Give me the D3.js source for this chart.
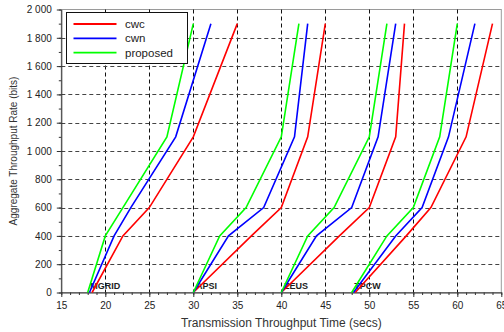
<!DOCTYPE html>
<html>
<head>
<meta charset="utf-8">
<script src="https://cdn.jsdelivr.net/npm/d3@7"></script>
<style>
  body { margin: 0; background: #fff; }
  svg { display: block; font-family: "Liberation Sans", Arial, Helvetica, sans-serif; }
</style>
</head>
<body>
<div id="chart"></div>
<script>
// benchmarks, series and the rate levels each line passes through
const groups = ['MGRID', 'APSI', 'ZEUS', 'TPCW'];
const seriesNames = ['cwc', 'cwn', 'proposed'];
const seriesColors = ['#ff0000', '#0000ff', '#00ff00'];
const rates = [0, 400, 600, 1100, 1900];

// transmission time (secs) at each rate level, per group
const cwcTimes = [
  [18.5, 22, 25, 30, 35],
  [30, 36.6, 40, 43, 45],
  [40, 46.6, 50, 53, 54],
  [48.4, 54.2, 57, 61, 64],
];
const cwnTimes = [
  [18.2, 21, 22.9, 28, 32],
  [30, 34, 38, 41.5, 43],
  [40, 44, 48, 51, 53],
  [48.2, 53, 56, 59, 62],
];
const proposedTimes = [
  [18, 20, 22, 27, 30],
  [30, 33, 36, 40, 42],
  [40, 43, 46, 50, 52],
  [48, 52, 55, 58, 60],
];

const xTicks = [15, 20, 25, 30, 35, 40, 45, 50, 55, 60, 65];
const yTicks = [0, 200, 400, 600, 800, 1000, 1200, 1400, 1600, 1800, 2000];

const width = 504;
const height = 332;
const plotLeft = 61.3, plotRight = 501.3, plotTop = 9.5, plotBottom = 292.5;

const svg = d3
  .select('#chart')
  .append('svg')
  .attr('width', width)
  .attr('height', height);

const x = d3.scaleLinear().domain([15, 65]).range([plotLeft, plotRight]);
const y = d3.scaleLinear().domain([0, 2000]).range([plotBottom, plotTop]);

const fmt = d3.formatLocale({
  decimal: '.',
  thousands: ' ',
  grouping: [3],
  currency: ['', ''],
}).format(',');

// plot frame (top / right edges are light)
svg
  .append('rect')
  .attr('x', plotLeft)
  .attr('y', plotTop)
  .attr('width', plotRight - plotLeft)
  .attr('height', plotBottom - plotTop)
  .attr('fill', 'none')
  .attr('stroke', '#9a9a9a')
  .attr('stroke-width', 1);

// dashed grid
svg
  .append('g')
  .selectAll('line')
  .data(xTicks.filter((d) => d > 15 && d < 65))
  .join('line')
  .attr('x1', (d) => Math.round(x(d)) + 0.5)
  .attr('x2', (d) => Math.round(x(d)) + 0.5)
  .attr('y1', plotTop)
  .attr('y2', plotBottom)
  .attr('stroke', '#111')
  .attr('stroke-dasharray', '4,3');

svg
  .append('g')
  .selectAll('line')
  .data(yTicks.filter((d) => d > 0 && d < 2000))
  .join('line')
  .attr('x1', plotLeft)
  .attr('x2', plotRight)
  .attr('y1', (d) => Math.round(y(d)) + 0.5)
  .attr('y2', (d) => Math.round(y(d)) + 0.5)
  .attr('stroke', '#444')
  .attr('stroke-dasharray', '4,3');

// minor ticks
svg
  .append('g')
  .attr('transform', `translate(0,${plotBottom})`)
  .call(d3.axisBottom(x).ticks(50).tickSize(2.5).tickFormat(''))
  .call((g) => g.select('.domain').remove())
  .selectAll('line')
  .attr('stroke', '#333');

svg
  .append('g')
  .attr('transform', `translate(${plotLeft},0)`)
  .call(d3.axisLeft(y).ticks(20).tickSize(2.5).tickFormat(''))
  .call((g) => g.select('.domain').remove())
  .selectAll('line')
  .attr('stroke', '#333');

// major axes
const xAxis = svg
  .append('g')
  .attr('transform', `translate(0,${plotBottom})`)
  .call(
    d3.axisBottom(x).tickValues(xTicks).tickSize(4.5).tickSizeOuter(0).tickPadding(5)
  );

const yAxis = svg
  .append('g')
  .attr('transform', `translate(${plotLeft},0)`)
  .call(
    d3.axisLeft(y).tickValues(yTicks).tickSize(4.5).tickSizeOuter(0).tickPadding(5).tickFormat(fmt)
  );

[xAxis, yAxis].forEach((g) => {
  g.select('.domain').attr('stroke', '#333');
  g.selectAll('.tick line').attr('stroke', '#333');
  g.selectAll('.tick text')
    .attr('fill', '#222')
    .attr('font-size', '10px')
    .attr('font-family', '"Liberation Sans", Arial, sans-serif');
});

// axis titles
svg
  .append('text')
  .attr('x', (plotLeft + plotRight) / 2)
  .attr('y', 327)
  .attr('text-anchor', 'middle')
  .attr('font-size', '12px')
  .attr('fill', '#333')
  .text('Transmission Throughput Time (secs)');

svg
  .append('text')
  .attr('transform', 'translate(17,151) rotate(-90)')
  .attr('text-anchor', 'middle')
  .attr('font-size', '10px')
  .attr('fill', '#333')
  .text('Aggregate Throughput Rate (bits)');

// benchmark names, sitting under the lines
svg
  .append('g')
  .selectAll('text')
  .data(groups)
  .join('text')
  .attr('x', (d, i) => x(proposedTimes[i][0] + 0.3))
  .attr('y', plotBottom - 4)
  .attr('font-size', '9px')
  .attr('font-weight', 'bold')
  .attr('fill', '#222')
  .text((d) => d);

// lines
const allTimes = [cwcTimes, cwnTimes, proposedTimes];
const line = d3
  .line()
  .x((d) => x(d[0]))
  .y((d) => y(d[1]));

seriesNames.forEach((name, s) => {
  svg
    .append('g')
    .selectAll('path')
    .data(allTimes[s])
    .join('path')
    .attr('d', (times) => line(times.map((t, k) => [t, rates[k]])))
    .attr('fill', 'none')
    .attr('stroke', seriesColors[s])
    .attr('stroke-width', 1.6);
});

// legend
const legend = svg.append('g').attr('transform', 'translate(66.5,12.5)');
legend
  .append('rect')
  .attr('width', 121)
  .attr('height', 51)
  .attr('fill', '#fff')
  .attr('stroke', '#111');

seriesNames.forEach((name, i) => {
  const row = legend.append('g').attr('transform', `translate(0,${11.5 + i * 14.3})`);
  row
    .append('line')
    .attr('x1', 7)
    .attr('x2', 50)
    .attr('stroke', seriesColors[i])
    .attr('stroke-width', 1.8);
  row
    .append('text')
    .attr('x', 58.5)
    .attr('y', 4)
    .attr('font-size', '11.5px')
    .attr('fill', '#222')
    .text(name);
});
</script>
</body>
</html>
